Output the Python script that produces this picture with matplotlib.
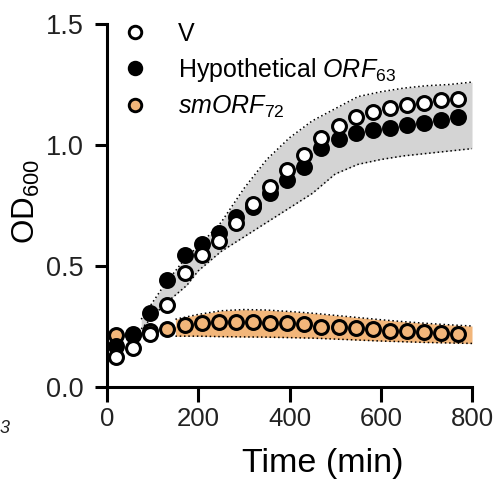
import matplotlib

matplotlib.use("Agg")
import matplotlib.pyplot as plt
from matplotlib.lines import Line2D

plt.rcParams["font.family"] = ["Liberation Sans", "DejaVu Sans"]
plt.rcParams["mathtext.fontset"] = "custom"
plt.rcParams["mathtext.rm"] = "Liberation Sans"
plt.rcParams["mathtext.it"] = "Liberation Sans:italic"

# sampling times (min)
time = [20, 57.5, 95, 132.5, 170, 207.5, 245, 282.5, 320, 357.5, 395,
        432.5, 470, 507.5, 545, 582.5, 620, 657.5, 695, 732.5, 770]

od_v = [0.125, 0.16, 0.22, 0.339, 0.47, 0.545, 0.605, 0.676, 0.756, 0.828, 0.897,
        0.959, 1.028, 1.078, 1.117, 1.138, 1.152, 1.165, 1.172, 1.186, 1.189]
od_hyp = [0.17, 0.215, 0.305, 0.442, 0.545, 0.59, 0.635, 0.704, 0.745, 0.80, 0.855,
          0.91, 0.986, 1.025, 1.05, 1.062, 1.069, 1.083, 1.09, 1.103, 1.117]
od_sm = [0.215, 0.22, 0.23, 0.24, 0.256, 0.263, 0.267, 0.27, 0.267, 0.265, 0.263,
         0.26, 0.249, 0.246, 0.243, 0.239, 0.233, 0.23, 0.226, 0.223, 0.22]

# shaded bands
grey_t = [75, 100, 125, 150, 175, 200, 250, 300, 350, 400, 450, 500, 550, 600, 650, 700, 750, 800]
grey_hi = [0.28, 0.35, 0.42, 0.48, 0.54, 0.58, 0.68, 0.82, 0.94, 1.03, 1.10, 1.15, 1.20, 1.22,
           1.235, 1.245, 1.25, 1.26]
grey_lo = [0.24, 0.29, 0.34, 0.38, 0.42, 0.48, 0.56, 0.62, 0.68, 0.74, 0.80, 0.88, 0.92, 0.94,
           0.955, 0.965, 0.975, 0.985]

orange_t = [150, 200, 250, 300, 350, 400, 450, 500, 550, 600, 650, 700, 750, 800]
orange_hi = [0.28, 0.30, 0.315, 0.32, 0.318, 0.312, 0.305, 0.296, 0.287, 0.278, 0.27, 0.263,
             0.257, 0.252]
orange_lo = [0.21, 0.21, 0.208, 0.207, 0.206, 0.204, 0.202, 0.198, 0.194, 0.19, 0.187, 0.184,
             0.182, 0.18]

labels = ["V", r"Hypothetical $\mathit{ORF}_{\mathit{63}}$", r"$\mathit{smORF}_{\mathit{72}}$"]

ORANGE = "#F2B67A"
GREY = "#D4D4D4"
dots = (0, (1, 1.8))

fig = plt.figure(figsize=(4.94, 4.86), dpi=100)
ax = fig.add_axes([0.2166, 0.2037, 0.7389, 0.7469])

ax.fill_between(grey_t, grey_lo, grey_hi, color=GREY, lw=0, zorder=1)
ax.plot(grey_t, grey_hi, color="black", ls=dots, lw=1.1, zorder=2)
ax.plot(grey_t, grey_lo, color="black", ls=dots, lw=1.1, zorder=2)

ax.fill_between(orange_t, orange_lo, orange_hi, color=ORANGE, lw=0, zorder=1)
ax.plot(orange_t, orange_hi, color="black", ls=dots, lw=1.1, zorder=2)
ax.plot(orange_t, orange_lo, color="black", ls=dots, lw=1.1, zorder=2)

mk = dict(marker="o", ls="none", ms=10, mew=2.2, mec="black", clip_on=False)
ax.plot(time, od_sm, mfc=ORANGE, zorder=3, **mk)
ax.plot(time, od_hyp, mfc="black", zorder=4, **mk)
ax.plot(time, od_v, mfc="white", zorder=5, **mk)

handles = [
    Line2D([], [], marker="o", ls="none", ms=9, mew=2.1, mec="black", mfc="white"),
    Line2D([], [], marker="o", ls="none", ms=9, mew=2.1, mec="black", mfc="black"),
    Line2D([], [], marker="o", ls="none", ms=9, mew=2.1, mec="black", mfc=ORANGE),
]
ax.legend(handles, labels, loc="upper left", bbox_to_anchor=(0.042, 1.006), frameon=False,
          fontsize=18, handlelength=1.0, handletextpad=1.22, labelspacing=0.40,
          borderaxespad=0, borderpad=0)

ax.set_xlim(0, 800)
ax.set_ylim(0, 1.5)
ax.set_xticks([0, 200, 400, 600, 800])
ax.set_yticks([0.0, 0.5, 1.0, 1.5])
ax.set_yticklabels(["0.0", "0.5", "1.0", "1.5"])

for side in ["top", "right"]:
    ax.spines[side].set_visible(False)
for side in ["left", "bottom"]:
    ax.spines[side].set_linewidth(2.2)

ax.tick_params(axis="both", width=2.2, colors="black", labelcolor="#222222")
ax.tick_params(axis="x", length=11, pad=3.5, labelsize=18.5)
ax.tick_params(axis="y", length=9, pad=8, labelsize=19.5)

ax.set_xlabel("Time (min)", fontsize=24.5)
ax.xaxis.set_label_coords(0.592, -0.168)
ax.set_ylabel(r"OD$_{600}$", fontsize=22.5)
ax.yaxis.set_label_coords(-0.177, 0.51)

fig.text(0.0, 0.119, "3", fontsize=13, style="italic", color="#222222", va="center")

fig.savefig("out.png", dpi=100)
